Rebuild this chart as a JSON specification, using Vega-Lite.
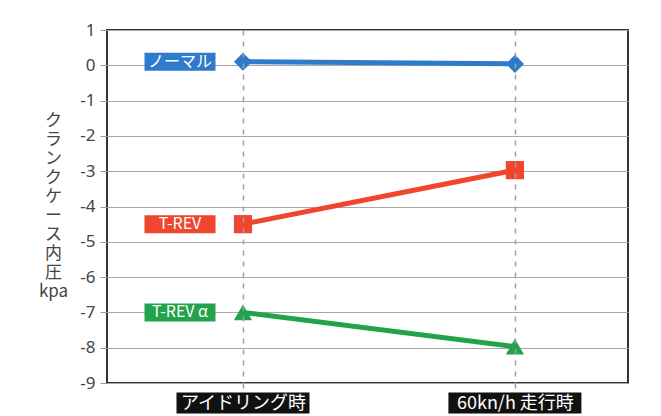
{
  "$schema": "https://vega.github.io/schema/vega-lite/v6.json",
  "autosize": "none",
  "width": 521,
  "height": 353,
  "padding": {"left": 107, "top": 30, "right": 33, "bottom": 33},
  "background": "#ffffff",
  "config": {
    "view": {"stroke": "#333333", "strokeWidth": 2},
    "font": "Noto Sans CJK JP"
  },
  "datasets": {
    "series": [
      {"cond": "アイドリング時", "series": "ノーマル", "value": 0.1},
      {"cond": "60kn/h 走行時", "series": "ノーマル", "value": 0.04},
      {"cond": "アイドリング時", "series": "T-REV", "value": -4.5},
      {"cond": "60kn/h 走行時", "series": "T-REV", "value": -2.97},
      {"cond": "アイドリング時", "series": "T-REV α", "value": -7.0},
      {"cond": "60kn/h 走行時", "series": "T-REV α", "value": -7.97}
    ],
    "categories": [
      {"cond": "アイドリング時"},
      {"cond": "60kn/h 走行時"}
    ]
  },
  "encoding": {
    "x": {
      "field": "cond",
      "type": "nominal",
      "scale": {"type": "point", "domain": ["アイドリング時", "60kn/h 走行時"], "padding": 0.458, "align": 0.546},
      "axis": {
        "title": null,
        "domain": false,
        "grid": true,
        "gridDash": [5, 6],
        "gridColor": "#a0a0a0",
        "gridWidth": 1.5,
        "ticks": true,
        "tickSize": 10,
        "tickDash": [5, 6],
        "tickColor": "#a0a0a0",
        "tickWidth": 1.5,
        "labelAngle": 0,
        "labelColor": "#ffffff",
        "labelFont": "Noto Sans CJK JP",
        "labelFontSize": 18,
        "labelBaseline": "middle",
        "labelPadding": 10,
        "zindex": 1
      }
    },
    "y": {
      "type": "quantitative",
      "scale": {"domain": [-9, 1], "nice": false, "zero": false},
      "axis": {
        "values": [-9, -8, -7, -6, -5, -4, -3, -2, -1, 0, 1],
        "labelExpr": "datum.value < 0 ? '-' + abs(datum.value) : '' + datum.value",
        "domain": false,
        "grid": true,
        "gridColor": "#a8a8a8",
        "gridWidth": 1.2,
        "tickColor": "#999999",
        "tickSize": 7,
        "labelPadding": 5,
        "labelFont": "Noto Sans",
        "labelFontSize": 17,
        "labelColor": "#444444",
        "title": ["ク", "ラ", "ン", "ク", "ケ", "ー", "ス", "内", "圧", "kpa"],
        "titleAngle": 0,
        "titleAlign": "center",
        "titleBaseline": "middle",
        "titleFont": "Noto Sans CJK JP",
        "titleFontSize": 17,
        "titleFontWeight": "normal",
        "titleLineHeight": 19,
        "titleColor": "#444444",
        "titleX": -54,
        "titleY": 90
      }
    }
  },
  "layer": [
    {
      "data": {"name": "series"},
      "mark": {"type": "line", "strokeWidth": 5},
      "encoding": {
        "y": {"field": "value"},
        "color": {
          "field": "series",
          "type": "nominal",
          "scale": {"domain": ["ノーマル", "T-REV", "T-REV α"], "range": ["#2e7acb", "#f0452f", "#22a24a"]},
          "legend": null
        }
      }
    },
    {
      "data": {"name": "series"},
      "mark": {"type": "point", "filled": true, "opacity": 1, "size": 330},
      "encoding": {
        "y": {"field": "value"},
        "color": {"field": "series", "type": "nominal", "legend": null},
        "shape": {
          "field": "series",
          "type": "nominal",
          "scale": {"domain": ["ノーマル", "T-REV", "T-REV α"], "range": ["diamond", "square", "triangle-up"]},
          "legend": null
        }
      }
    },
    {
      "data": {"name": "series"},
      "transform": [{"filter": "datum.cond == 'アイドリング時'"}],
      "mark": {"type": "point", "filled": true, "opacity": 1, "size": 5041, "shape": "M-1,-0.2535H1V0.2535H-1Z", "xOffset": -63},
      "encoding": {
        "y": {"field": "value"},
        "color": {"field": "series", "type": "nominal", "legend": null}
      }
    },
    {
      "data": {"name": "series"},
      "transform": [{"filter": "datum.cond == 'アイドリング時'"}],
      "mark": {"type": "text", "color": "#ffffff", "font": "Noto Sans CJK JP", "fontSize": 16, "align": "center", "baseline": "middle", "xOffset": -63},
      "encoding": {
        "y": {"field": "value"},
        "text": {"field": "series"}
      }
    },
    {
      "data": {"name": "categories"},
      "mark": {"type": "point", "filled": true, "opacity": 1, "color": "#111111", "size": 17689, "shape": "M-1,-0.158H1V0.158H-1Z", "yOffset": 20, "clip": false},
      "encoding": {
        "y": {"datum": -9}
      }
    }
  ]
}
